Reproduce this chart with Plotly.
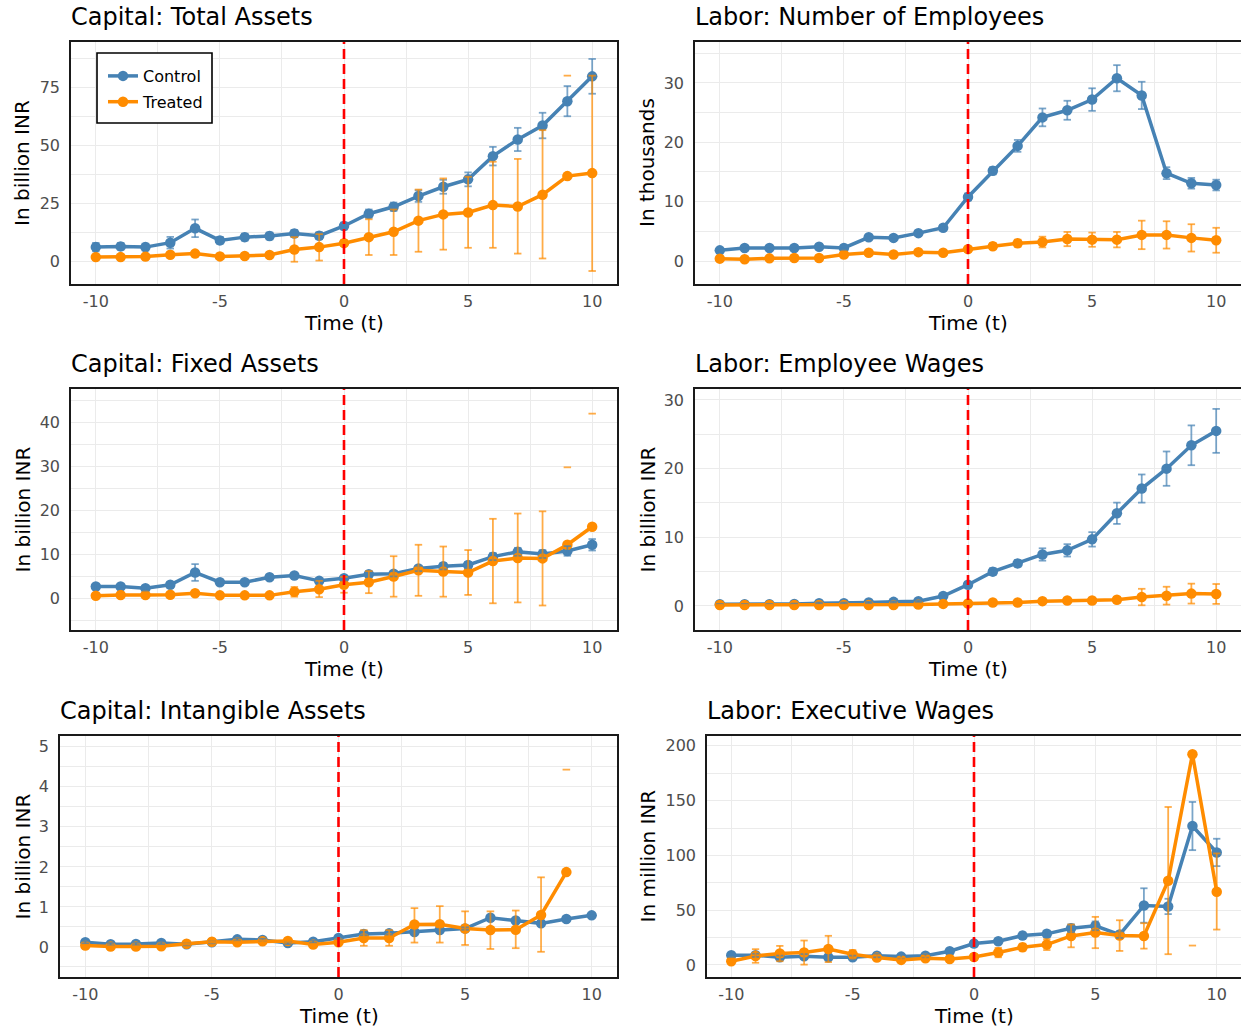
import plotly.graph_objects as go

# ---------------- data ----------------
T = list(range(-10, 11))
X_TICKS = [-10, -5, 0, 5, 10]
SERIES = ["Control", "Treated"]
X_LABEL = "Time (t)"

TITLES = ["Capital: Total Assets", "Labor: Number of Employees",
          "Capital: Fixed Assets", "Labor: Employee Wages",
          "Capital: Intangible Assets", "Labor: Executive Wages"]
Y_LABELS = ["In billion INR", "In thousands", "In billion INR",
            "In billion INR", "In billion INR", "In million INR"]

# Capital: Total Assets
TA_CTRL = [6.0, 6.3, 6.0, 7.9, 14.1, 8.9, 10.3, 10.8, 11.9, 10.9, 15.1, 20.4, 23.4, 28.0, 32.0, 35.2, 45.2, 52.4, 58.4, 68.9, 79.6]
TA_CTRL_LO = [4.2, 4.8, 4.5, 5.4, 10.3, 7.4, 8.8, 9.3, 10.4, 9.4, 13.6, 18.6, 21.6, 25.5, 29.0, 32.2, 41.2, 47.4, 52.9, 62.4, 72.1]
TA_CTRL_HI = [7.8, 7.8, 7.5, 10.4, 17.9, 10.4, 11.8, 12.3, 13.4, 12.4, 16.6, 22.2, 25.2, 30.5, 35.0, 38.2, 49.2, 57.4, 63.9, 75.4, 87.1]
TA_TRT = [1.7, 1.7, 1.9, 2.7, 3.2, 2.0, 2.2, 2.6, 5.0, 6.0, 7.7, 10.3, 12.6, 17.4, 20.1, 20.9, 24.1, 23.5, 28.6, 36.6, 37.9]
TA_TRT_LO = [1.2, 1.2, 1.4, 2.2, 2.5, 1.5, 1.7, 2.0, -0.3, 0.2, 6.5, 2.6, 2.6, 4.0, 4.9, 5.7, 5.7, 3.2, 1.1, None, -4.3]
TA_TRT_HI = [2.2, 2.2, 2.4, 3.2, 3.9, 2.5, 2.7, 3.2, 10.3, 11.6, 8.9, 18.0, 22.2, 30.8, 35.6, 36.3, 42.8, 44.0, 56.4, 79.9, 79.9]

# Labor: Number of Employees
EMP_CTRL = [1.8, 2.2, 2.2, 2.2, 2.4, 2.2, 4.0, 3.9, 4.7, 5.6, 10.8, 15.2, 19.4, 24.2, 25.4, 27.2, 30.8, 27.9, 14.8, 13.1, 12.8]
EMP_CTRL_LO = [1.5, 1.9, 1.9, 1.9, 2.1, 1.9, 3.7, 3.6, 4.3, 5.2, 10.2, 14.6, 18.4, 22.7, 23.8, 25.3, 28.6, 25.6, 13.8, 12.2, 11.9]
EMP_CTRL_HI = [2.1, 2.5, 2.5, 2.5, 2.7, 2.5, 4.3, 4.2, 5.1, 6.0, 11.4, 15.8, 20.4, 25.7, 27.0, 29.1, 33.0, 30.2, 15.8, 14.0, 13.7]
EMP_TRT = [0.4, 0.3, 0.45, 0.5, 0.5, 1.1, 1.4, 1.1, 1.5, 1.4, 2.0, 2.5, 3.0, 3.2, 3.7, 3.6, 3.6, 4.4, 4.4, 3.9, 3.5]
EMP_TRT_LO = [0.2, 0.1, 0.25, 0.3, 0.3, 0.8, 1.1, 0.8, 1.2, 1.1, 1.6, 2.0, 2.4, 2.3, 2.5, 2.4, 2.3, 2.0, 2.1, 1.6, 1.4]
EMP_TRT_HI = [0.6, 0.5, 0.65, 0.7, 0.7, 1.4, 1.7, 1.4, 1.8, 1.7, 2.4, 3.0, 3.6, 4.1, 4.9, 4.8, 4.9, 6.8, 6.7, 6.2, 5.6]

# Capital: Fixed Assets
FA_CTRL = [2.6, 2.6, 2.2, 3.0, 5.8, 3.6, 3.6, 4.7, 5.1, 3.9, 4.5, 5.4, 5.5, 6.7, 7.2, 7.5, 9.4, 10.5, 10.0, 10.7, 12.1]
FA_CTRL_LO = [2.0, 2.1, 1.7, 2.4, 3.9, 3.1, 3.1, 4.2, 4.6, 3.4, 4.0, 4.8, 4.9, 6.1, 6.5, 6.8, 8.6, 9.6, 9.1, 9.6, 10.8]
FA_CTRL_HI = [3.2, 3.1, 2.7, 3.6, 7.7, 4.1, 4.1, 5.2, 5.6, 4.4, 5.0, 6.0, 6.1, 7.3, 7.9, 8.2, 10.2, 11.4, 10.9, 11.8, 13.4]
FA_TRT = [0.5, 0.7, 0.7, 0.75, 1.1, 0.6, 0.6, 0.6, 1.4, 2.0, 3.0, 3.6, 4.9, 6.3, 6.0, 5.8, 8.4, 9.1, 9.0, 12.1, 16.2]
FA_TRT_LO = [0.3, 0.5, 0.5, 0.55, 0.8, 0.4, 0.4, 0.4, 0.3, 0.2, 1.2, 1.1, 0.3, 0.5, 0.3, 0.7, -1.2, -1.0, -1.7, None, None]
FA_TRT_HI = [0.7, 0.9, 0.9, 0.95, 1.4, 0.8, 0.8, 0.8, 2.5, 3.9, 4.8, 6.1, 9.5, 12.1, 11.7, 10.9, 18.0, 19.2, 19.7, 29.7, 41.9]

# Labor: Employee Wages
EW_CTRL = [0.25, 0.25, 0.25, 0.3, 0.4, 0.4, 0.5, 0.6, 0.7, 1.45, 3.1, 5.0, 6.2, 7.5, 8.1, 9.7, 13.5, 17.1, 20.0, 23.4, 25.5]
EW_CTRL_LO = [0.2, 0.2, 0.2, 0.25, 0.3, 0.3, 0.4, 0.5, 0.6, 1.25, 2.7, 4.5, 5.7, 6.6, 7.2, 8.65, 11.95, 15.05, 17.5, 20.5, 22.3]
EW_CTRL_HI = [0.3, 0.3, 0.3, 0.35, 0.5, 0.5, 0.6, 0.7, 0.8, 1.65, 3.5, 5.5, 6.7, 8.4, 9.0, 10.75, 15.05, 19.15, 22.5, 26.3, 28.7]
EW_TRT = [0.15, 0.15, 0.15, 0.15, 0.15, 0.15, 0.15, 0.15, 0.2, 0.3, 0.35, 0.5, 0.5, 0.7, 0.8, 0.8, 0.9, 1.3, 1.5, 1.8, 1.75]
EW_TRT_LO = [0.1, 0.1, 0.1, 0.1, 0.1, 0.1, 0.1, 0.1, 0.15, 0.2, 0.25, 0.35, 0.35, 0.5, 0.55, 0.5, 0.5, 0.1, 0.2, 0.35, 0.3]
EW_TRT_HI = [0.2, 0.2, 0.2, 0.2, 0.2, 0.2, 0.2, 0.2, 0.25, 0.4, 0.45, 0.65, 0.65, 0.9, 1.05, 1.1, 1.3, 2.5, 2.8, 3.25, 3.2]

# Capital: Intangible Assets
IA_CTRL = [0.12, 0.07, 0.075, 0.1, 0.07, 0.12, 0.19, 0.175, 0.1, 0.13, 0.225, 0.325, 0.34, 0.375, 0.425, 0.46, 0.73, 0.66, 0.59, 0.7, 0.79]
IA_CTRL_LO = [0.09, 0.04, 0.045, 0.07, 0.04, 0.09, 0.16, 0.145, 0.07, 0.10, 0.195, 0.295, 0.31, 0.345, 0.395, 0.43, 0.68, 0.61, 0.54, 0.65, 0.74]
IA_CTRL_HI = [0.15, 0.10, 0.105, 0.13, 0.10, 0.15, 0.22, 0.205, 0.13, 0.16, 0.255, 0.355, 0.37, 0.405, 0.455, 0.49, 0.78, 0.71, 0.64, 0.75, 0.84]
IA_TRT = [0.035, 0.01, 0.01, 0.02, 0.08, 0.13, 0.12, 0.14, 0.15, 0.06, 0.12, 0.225, 0.225, 0.56, 0.57, 0.46, 0.425, 0.43, 0.8, 1.87, None]
IA_TRT_LO = [0.02, 0.0, 0.0, 0.01, 0.06, 0.11, 0.10, 0.12, 0.13, 0.04, 0.08, 0.03, 0.03, 0.11, 0.11, 0.05, -0.05, -0.03, -0.12, None, None]
IA_TRT_HI = [0.05, 0.02, 0.02, 0.03, 0.10, 0.15, 0.14, 0.16, 0.17, 0.08, 0.16, 0.42, 0.42, 0.97, 1.02, 0.89, 0.89, 0.91, 1.74, 4.43, None]

# Labor: Executive Wages
XW_CTRL = [8.8, 8.8, 7.0, 7.9, 7.0, 7.0, 8.5, 7.6, 8.5, 12.5, 19.5, 21.6, 26.8, 28.4, 33.5, 35.7, 27.7, 54.3, 53.4, 126.8, 102.7]
XW_CTRL_LO = [7.3, 7.3, 5.5, 5.9, 5.5, 5.5, 7.0, 6.1, 7.0, 10.5, 17.0, 19.1, 23.8, 25.4, 30.0, 31.7, 24.7, 38.6, 46.4, 104.8, 90.2]
XW_CTRL_HI = [10.3, 10.3, 8.5, 9.9, 8.5, 8.5, 10.0, 9.1, 10.0, 14.5, 22.0, 24.1, 29.8, 31.4, 37.0, 39.7, 30.7, 70.0, 60.4, 148.8, 115.2]
XW_TRT = [3.4, 8.2, 10.4, 11.3, 14.6, 9.8, 6.7, 4.6, 6.1, 5.5, 7.3, 11.3, 16.2, 18.6, 26.5, 29.6, 26.8, 26.5, 76.8, 192.4, 66.8]
XW_TRT_LO = [1.5, 2.0, 3.4, 0.3, 2.6, 6.0, 4.5, 2.6, 4.5, 3.5, 5.0, 7.0, 13.0, 13.6, 16.1, 15.3, 12.8, 14.9, 9.8, 17.7, 32.3]
XW_TRT_HI = [5.3, 14.4, 17.4, 22.3, 26.6, 13.6, 8.9, 6.6, 7.7, 7.5, 9.6, 15.6, 19.4, 23.6, 36.9, 43.9, 40.8, 38.1, 144.2, None, 101.8]

PANEL_DATA = [
    (TA_CTRL, TA_CTRL_LO, TA_CTRL_HI, TA_TRT, TA_TRT_LO, TA_TRT_HI),
    (EMP_CTRL, EMP_CTRL_LO, EMP_CTRL_HI, EMP_TRT, EMP_TRT_LO, EMP_TRT_HI),
    (FA_CTRL, FA_CTRL_LO, FA_CTRL_HI, FA_TRT, FA_TRT_LO, FA_TRT_HI),
    (EW_CTRL, EW_CTRL_LO, EW_CTRL_HI, EW_TRT, EW_TRT_LO, EW_TRT_HI),
    (IA_CTRL, IA_CTRL_LO, IA_CTRL_HI, IA_TRT, IA_TRT_LO, IA_TRT_HI),
    (XW_CTRL, XW_CTRL_LO, XW_CTRL_HI, XW_TRT, XW_TRT_LO, XW_TRT_HI),
]

# ---------------- layout / style ----------------
W, H = 1241, 1029
FONT = "DejaVu Sans"
COLORS = ["#4682B4", "#FF8C00"]
ERR_COLORS = ["rgba(70,130,180,0.72)", "rgba(255,140,0,0.72)"]
GRID = "#EBEBEB"

# panel boxes in pixels: (left, right, top, bottom)
BOXES = [(71, 617, 42, 284), (695, 1241, 42, 284),
         (71, 617, 389, 630), (695, 1241, 389, 630),
         (60, 617, 736, 977), (707, 1241, 736, 977)]
Y_RANGES = [(-9.9, 94.4), (-3.87, 36.9), (-7.27, 47.5), (-3.5, 31.6), (-0.75, 5.27), (-11, 209)]
Y_DTICK = [25, 10, 10, 10, 1, 50]
YTITLE_X = [22, 647, 22, 647, 22, 647]
CAP = 0.15


def px_x(v):
    return v / W


def px_y(v):
    return 1 - v / H


fig = go.Figure()
annotations = []
shapes = []

for i, (box, data) in enumerate(zip(BOXES, PANEL_DATA)):
    n = i + 1
    xa = "x" if n == 1 else f"x{n}"
    ya = "y" if n == 1 else f"y{n}"
    left, right, top, bottom = box
    right_col = (i % 2 == 1)

    fig.update_layout(**{
        ("xaxis" if n == 1 else f"xaxis{n}"): dict(
            domain=[px_x(left), px_x(right)], anchor=ya, range=[-11, 11],
            tickvals=X_TICKS, ticktext=[str(v) for v in X_TICKS],
            showgrid=True, gridcolor=GRID, gridwidth=1.1, zeroline=False,
            minor=dict(dtick=2.5, tick0=0, showgrid=True, gridcolor=GRID, gridwidth=0.6),
            showline=True, linecolor="#1a1a1a", linewidth=1.6, mirror=True,
            ticks="", tickfont=dict(family=FONT, size=16, color="#4D4D4D"),
            ticklabelstandoff=2,
        ),
        ("yaxis" if n == 1 else f"yaxis{n}"): dict(
            domain=[px_y(bottom), px_y(top)], anchor=xa, range=list(Y_RANGES[i]),
            dtick=Y_DTICK[i], tick0=0,
            showgrid=True, gridcolor=GRID, gridwidth=1.1, zeroline=False,
            minor=dict(dtick=Y_DTICK[i] / 2, tick0=0, showgrid=True, gridcolor=GRID, gridwidth=0.6),
            showline=True, linecolor="#1a1a1a", linewidth=1.6, mirror=(not right_col),
            ticks="", tickfont=dict(family=FONT, size=16, color="#4D4D4D"),
            ticklabelstandoff=6,
        ),
    })

    ys = [data[0], data[3]]
    los = [data[1], data[4]]
    his = [data[2], data[5]]

    # lines + points
    for s in range(2):
        fig.add_trace(go.Scatter(
            x=T, y=ys[s], mode="lines+markers", name=SERIES[s],
            line=dict(color=COLORS[s], width=3.5),
            marker=dict(color=COLORS[s], size=10.5),
            xaxis=xa, yaxis=ya, showlegend=(i == 0), legendgroup=SERIES[s],
            hoverinfo="skip", connectgaps=False,
        ))
    # error bars
    for s in range(2):
        ex, ey = [], []
        for t, lo, hi in zip(T, los[s], his[s]):
            if lo is not None and hi is not None:
                ex += [t, t, None]
                ey += [lo, hi, None]
            for end in (lo, hi):
                if end is not None:
                    ex += [t - CAP, t + CAP, None]
                    ey += [end, end, None]
        fig.add_trace(go.Scatter(
            x=ex, y=ey, mode="lines", line=dict(color=ERR_COLORS[s], width=1.8),
            xaxis=xa, yaxis=ya, showlegend=False, hoverinfo="skip",
        ))

    # treatment line at t = 0
    shapes.append(dict(type="line", xref=xa, yref=f"{ya} domain", x0=0, x1=0, y0=0, y1=1,
                       line=dict(color="#FF0000", width=2.6, dash="10px,5px"), layer="above"))

    # panel title
    annotations.append(dict(text=TITLES[i], xref="paper", yref="paper",
                            x=px_x(left - 2), y=px_y(top - 25), xanchor="left", yanchor="middle",
                            showarrow=False, font=dict(family=FONT, size=24, color="black")))
    # x title
    annotations.append(dict(text=X_LABEL, xref="paper", yref="paper",
                            x=px_x((left + right) / 2), y=px_y(bottom + 39),
                            xanchor="center", yanchor="middle",
                            showarrow=False, font=dict(family=FONT, size=20, color="black")))
    # y title
    annotations.append(dict(text=Y_LABELS[i], xref="paper", yref="paper",
                            x=px_x(YTITLE_X[i]), y=px_y((top + bottom) / 2), textangle=-90,
                            xanchor="center", yanchor="middle",
                            showarrow=False, font=dict(family=FONT, size=20, color="black")))

# legend frame (drawn as a shape so its padding matches the reference)
shapes.append(dict(type="rect", xref="paper", yref="paper",
                   x0=px_x(97), x1=px_x(212), y0=px_y(123), y1=px_y(53),
                   fillcolor="white", line=dict(color="black", width=1.6), layer="above"))

fig.update_layout(
    width=W, height=H, margin=dict(l=0, r=0, t=0, b=0),
    paper_bgcolor="white", plot_bgcolor="white",
    font=dict(family=FONT),
    annotations=annotations, shapes=shapes,
    legend=dict(x=px_x(103), y=px_y(59), xanchor="left", yanchor="top",
                bgcolor="rgba(0,0,0,0)", borderwidth=0,
                font=dict(family=FONT, size=16, color="black"),
                tracegroupgap=2, itemwidth=30),
    showlegend=True,
)

fig.write_html("out.html", config={"displayModeBar": False},
               post_script="document.body.style.margin='0px';document.body.style.padding='0px';")
